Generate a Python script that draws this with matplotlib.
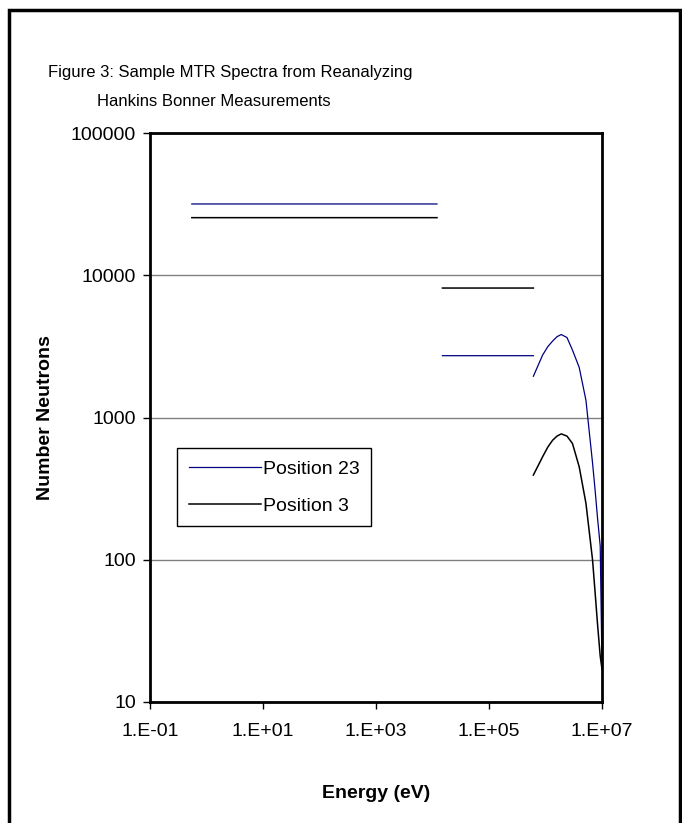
import numpy as np
import matplotlib
matplotlib.use('Agg')
import matplotlib.pyplot as plt
from matplotlib.patches import Rectangle

plt.rcParams['font.family'] = ['Liberation Sans', 'DejaVu Sans']

# Energy groups (eV)
thermal_E = [0.55, 1.2e4]
epi_E = [1.5e4, 6.1e5]
fast_E = [6.1e5, 8.9e5, 1.1e6, 1.34e6, 1.6e6, 1.9e6, 2.4e6, 3.0e6, 3.95e6,
          5.2e6, 6.8e6, 7.6e6, 8.3e6, 9.3e6, 1.0e7]

# Number of neutrons per group
pos23_thermal = 31700
pos23_epi = 2720
pos23_fast = [1950, 2750, 3150, 3450, 3700, 3830, 3650, 2980, 2250,
              1320, 480, 300, 200, 125, 18]

pos3_thermal = 25400
pos3_epi = 8130
pos3_fast = [394, 530, 620, 693, 740, 767, 740, 657, 450,
             249, 100, 57, 36, 21, 17]

series = {
    'Position 23': (pos23_thermal, pos23_epi, pos23_fast, '#000080', 0.9),
    'Position 3': (pos3_thermal, pos3_epi, pos3_fast, 'black', 1.1),
}

fig = plt.figure(figsize=(6.82, 8.23), dpi=100)
ax = fig.add_axes([150 / 682, 1 - 702 / 823, 452 / 682, 569 / 823])

for name, (th, ep, fa, col, lw) in series.items():
    # one line per spectrum, with gaps between the energy groups
    x = list(thermal_E) + [np.nan] + list(epi_E) + [np.nan] + list(fast_E)
    y = [th, th, np.nan, ep, ep, np.nan] + list(fa)
    ax.plot(x, y, color=col, lw=lw, label=name)

ax.set_xscale('log')
ax.set_yscale('log')
ax.set_xlim(1e-1, 1e7)
ax.set_ylim(10, 1e5)

ax.set_xticks([1e-1, 1e1, 1e3, 1e5, 1e7])
ax.set_xticklabels(['1.E-01', '1.E+01', '1.E+03', '1.E+05', '1.E+07'])
ax.set_yticks([10, 100, 1000, 10000, 100000])
ax.set_yticklabels(['10', '100', '1000', '10000', '100000'])
ax.minorticks_off()
ax.tick_params(direction='out', length=5, width=1, labelsize=14, pad=5)
ax.tick_params(axis='x', pad=10)

ax.grid(axis='y', color='#808080', lw=1)
ax.set_axisbelow(True)
for s in ax.spines.values():
    s.set_linewidth(2)

ax.set_xlabel('Energy (eV)', fontsize=14, fontweight='bold')
ax.set_ylabel('Number Neutrons', fontsize=14, fontweight='bold')
ax.xaxis.set_label_coords(0.5, -0.146)
ax.yaxis.set_label_coords(-0.213, 0.5)

leg = ax.legend(loc='upper left', bbox_to_anchor=(0.06, 0.446), fontsize=14,
                handlelength=3.7, handletextpad=0.1, labelspacing=1.0,
                borderpad=0.6, borderaxespad=0, fancybox=False, framealpha=1)
leg.get_frame().set_edgecolor('black')
leg.get_frame().set_linewidth(1)

fig.text(48 / 682, 1 - 73 / 823, 'Figure 3: Sample MTR Spectra from Reanalyzing',
         fontsize=12, va='center')
fig.text(97 / 682, 1 - 101 / 823, 'Hankins Bonner Measurements',
         fontsize=12, va='center')

# frame around the whole figure
fig.add_artist(Rectangle((9 / 682, -0.05), 671 / 682, 1.05 - 10 / 823,
                         transform=fig.transFigure, fill=False,
                         ec='black', lw=2.5))

fig.savefig('out.png', dpi=100)
